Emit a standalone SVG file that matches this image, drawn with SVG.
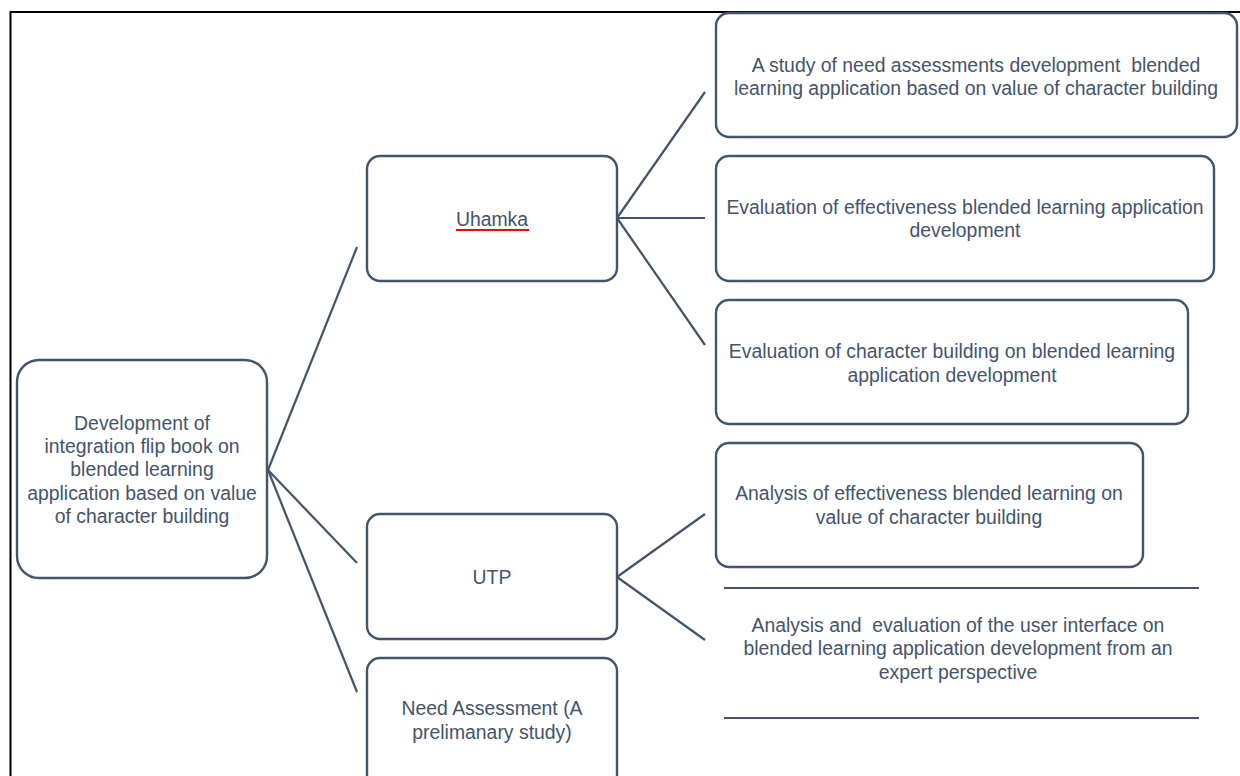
<svg xmlns="http://www.w3.org/2000/svg" width="1240" height="776" viewBox="0 0 1240 776">
<style>
.box{fill:#fff;stroke:#44546A;stroke-width:2.4}
.ln{stroke:#44546A;stroke-width:2.2;fill:none}
text{font-family:"Liberation Sans",Arial,sans-serif;font-size:19.4px;fill:#44546A;text-anchor:middle;white-space:pre}
</style>
<rect x="0" y="0" width="1240" height="776" fill="#fff"/>
<path d="M10.5,776 V12 H1240" fill="none" stroke="#000" stroke-width="2"/>
<g id="connectors" class="ln">
<line x1="268" y1="470" x2="357" y2="247"/>
<line x1="268" y1="470" x2="357" y2="563"/>
<line x1="268" y1="470" x2="357" y2="692"/>
<line x1="617" y1="218" x2="705" y2="92"/>
<line x1="617" y1="218" x2="705" y2="218"/>
<line x1="617" y1="218" x2="705" y2="345"/>
<line x1="617" y1="577" x2="705" y2="514"/>
<line x1="617" y1="577" x2="705" y2="640"/>
</g>
<g id="root">
<rect class="box" x="17" y="360" width="250" height="218" rx="22"/>
<text x="142" y="430">Development of</text>
<text x="142" y="453">integration flip book on</text>
<text x="142" y="476">blended learning</text>
<text x="142" y="500">application based on value</text>
<text x="142" y="523">of character building</text>
</g>
<g id="uhamka">
<rect class="box" x="367" y="156" width="250" height="125" rx="13"/>
<text x="492" y="226">Uhamka</text>
<line x1="456" y1="230" x2="529" y2="230" stroke="#FF0000" stroke-width="2"/>
</g>
<g id="utp">
<rect class="box" x="367" y="514" width="250" height="125" rx="13"/>
<text x="492" y="584">UTP</text>
</g>
<g id="need">
<rect class="box" x="367" y="658" width="250" height="140" rx="13"/>
<text x="492" y="715">Need Assessment (A</text>
<text x="492" y="739">prelimanary study)</text>
</g>
<g id="a1">
<rect class="box" x="716" y="13" width="521" height="124" rx="13"/>
<text x="976" y="72">A study of need assessments development  blended</text>
<text x="976" y="95">learning application based on value of character building</text>
</g>
<g id="a2">
<rect class="box" x="716" y="156" width="498" height="125" rx="13"/>
<text x="965" y="214">Evaluation of effectiveness blended learning application</text>
<text x="965" y="237">development</text>
</g>
<g id="a3">
<rect class="box" x="716" y="300" width="472" height="124" rx="13"/>
<text x="952" y="358">Evaluation of character building on blended learning</text>
<text x="952" y="382">application development</text>
</g>
<g id="b1">
<rect class="box" x="716" y="443" width="427" height="124" rx="13"/>
<text x="929" y="500">Analysis of effectiveness blended learning on</text>
<text x="929" y="524">value of character building</text>
</g>
<g id="b2">
<line class="ln" x1="724" y1="588" x2="1199" y2="588"/>
<line class="ln" x1="724" y1="718" x2="1199" y2="718"/>
<text x="958" y="632">Analysis and  evaluation of the user interface on</text>
<text x="958" y="655">blended learning application development from an</text>
<text x="958" y="679">expert perspective</text>
</g>
</svg>
